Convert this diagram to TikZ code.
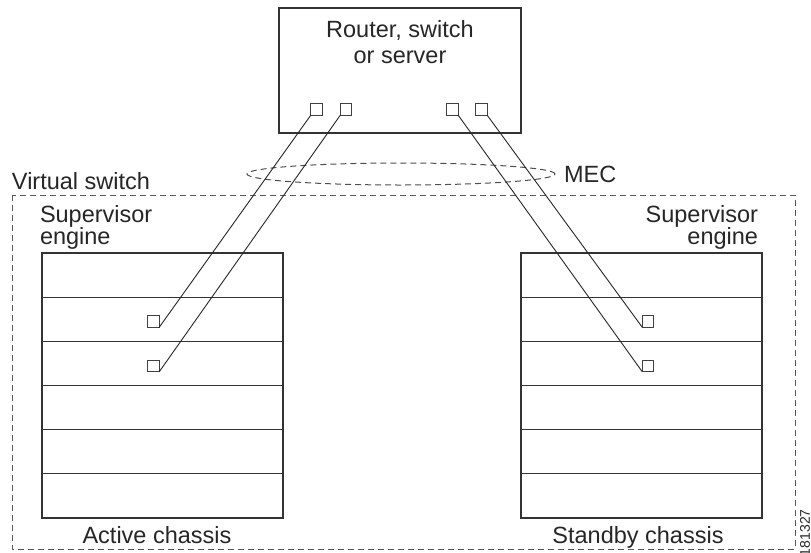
\documentclass[tikz,border=0pt]{standalone}
\usepackage{fontspec}
\setmainfont{Liberation Sans}
\usetikzlibrary{shapes.geometric}
\begin{document}
\begin{tikzpicture}[x=1pt,y=-1pt,
  every node/.style={inner sep=0pt,outer sep=0pt},
  lbl/.style={font=\fontsize{23.5}{26}\selectfont,text=black!85},
  lbltight/.style={font=\fontsize{23.5}{22.5}\selectfont,text=black!85},
  port/.style={draw=black!75,line width=1pt,fill=white,minimum width=11.5pt,minimum height=11.5pt},
  box/.style={draw=black!80,line width=1.3pt},
  wire/.style={draw=black!85,line width=0.9pt},
  dashbox/.style={draw=black!65,line width=1pt,dash pattern=on 6pt off 4pt}]
\useasboundingbox (0,0) rectangle (811,552);
% virtual switch dashed boundary
\draw[dashbox] (12,195) rectangle (795,549);
% top device
\node[box,minimum width=242pt,minimum height=125pt] (dev) at (400,70.5) {};
\node[lbl,align=center,anchor=base] (devt) at (400,63) {Router, switch\\or server};
\node[port] (p1) at (316.5,109.5) {};
\node[port] (p2) at (346,109.5) {};
\node[port] (p3) at (452.5,109.5) {};
\node[port] (p4) at (481.5,109.5) {};
% chassis
\foreach \n/\x in {L/42,R/521}{
  \node[box,minimum width=241pt,minimum height=265pt,anchor=north west] (ch\n) at (\x,253) {};
  \foreach \yy in {297.2,341.3,385.5,429.7,473.8}
    \draw[box] (\x,\yy) -- ++(241,0);
}
\node[port] (a1) at (153.5,321.5) {};
\node[port] (a2) at (153.5,366) {};
\node[port] (b1) at (648,321.5) {};
\node[port] (b2) at (648,366) {};
% MEC ellipse
\node[draw=black!70,line width=1pt,dash pattern=on 6pt off 4pt,ellipse,minimum width=308pt,minimum height=22pt] (mec) at (401,174) {};
% wires
\draw[wire] (p1.south west) -- (a1.south east);
\draw[wire] (p2.south west) -- (a2.south east);
\draw[wire] (p3.south east) -- (b2.south west);
\draw[wire] (p4.south east) -- (b1.south west);
% labels
\node[lbl,anchor=base west] (mect) at (564,182) {MEC};
\node[lbl,anchor=base west] (vs) at (12,189) {Virtual switch};
\node[lbltight,anchor=base west,align=left] (se1) at (40,244.5) {Supervisor\\engine};
\node[lbltight,anchor=base east,align=right] (se2) at (758,244.5) {Supervisor\\engine};
\node[lbl,anchor=base] (act) at (157,543) {Active chassis};
\node[lbl,anchor=base] (stb) at (638,543) {Standby chassis};
\node[font=\fontsize{14}{14}\selectfont,text=black!85,rotate=90,anchor=south west] (num) at (810,556) {181327};
\end{tikzpicture}
\end{document}
